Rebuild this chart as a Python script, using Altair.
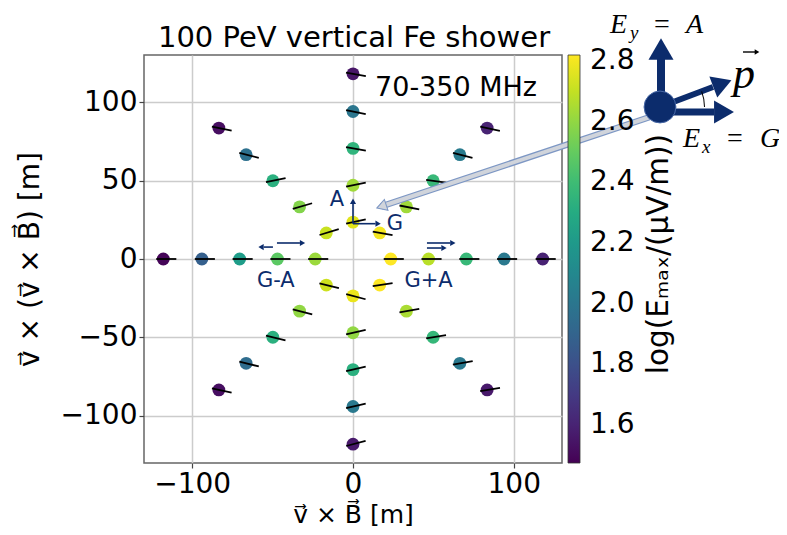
import altair as alt
import pandas as pd

# ---------------- data ----------------
arm_angles = [0, 45, 90, 135, 180, 225, 270, 315]          # direction of each star arm [deg]
radii = [23.5, 47.0, 70.5, 94.0, 118.0]                     # antenna distance along an arm [m]

# log10(E_max / (uV/m)) per arm, inner -> outer
logE_0 = [2.82, 2.68, 2.38, 2.02, 1.60]
logE_45 = [2.80, 2.63, 2.38, 2.03, 1.60]
logE_90 = [2.76, 2.63, 2.35, 2.00, 1.55]
logE_135 = [2.71, 2.57, 2.33, 1.97, 1.52]
logE_180 = [2.62, 2.48, 2.22, 1.88, 1.49]
logE_225 = [2.72, 2.60, 2.33, 1.95, 1.52]
logE_270 = [2.78, 2.60, 2.33, 2.02, 1.56]
logE_315 = [2.82, 2.65, 2.37, 2.02, 1.56]

# polarisation direction per arm [deg from the v x B axis], inner -> outer
pol_0 = [0, 0, 0, 0, 0]
pol_45 = [-10, -11, -8, -14, -12]
pol_90 = [12, 12, -10, -12, -10]
pol_135 = [17, 16, 12, -14, -11]
pol_180 = [0, 0, 0, 0, 0]
pol_225 = [-14, -14, -14, -14, -12]
pol_270 = [-15, 13, 13, 13, 15]
pol_315 = [9, 10, 9, 10, 9]

cbar_ticks = [1.6, 1.8, 2.0, 2.2, 2.4, 2.6, 2.8]
cbar_range = [1.475, 2.82]
x_ticks = [-100, 0, 100]
y_ticks = [-100, -50, 0, 50, 100]
axis_range = [-130, 130]

TITLE = "100 PeV vertical Fe shower"
XT = "v\u20d7 \u00d7 B\u20d7 [m]"
YT = "v\u20d7 \u00d7 (v\u20d7 \u00d7 B\u20d7) [m]"
CBT = "log(E\u2098\u2090\u2093/(\u03bcV/m))"
BAND = "70-350 MHz"

# annotation arrows inside the plot (data coordinates)
ann_x1 = [0, 0, -49.8, -47.3, 46.0, 46.0]
ann_y1 = [22.5, 22.5, 7.6, 10.2, 10.2, 7.0]
ann_x2 = [0, 14.0, -55.5, -33.0, 60.5, 55.0]
ann_y2 = [35.5, 22.5, 7.6, 10.2, 10.2, 7.0]
head_x = [0, 15.6, -57.2, -31.4, 62.1, 56.6]
head_y = [36.8, 22.5, 7.6, 10.2, 10.2, 7.0]
head_a = [0, 90, 270, 90, 90, 90]
lab_text = ["A", "G", "G-A", "G+A"]
lab_x = [-10.0, 26.0, -48.0, 47.0]
lab_y = [37.6, 22.5, -14.0, -14.0]

NAVY = "#0c2c6c"
FONT = "DejaVu Sans"
SERIF = "Liberation Serif"

# ---------------- tables ----------------
rows = []
for a, le, pl in zip(arm_angles,
                     [logE_0, logE_45, logE_90, logE_135, logE_180, logE_225, logE_270, logE_315],
                     [pol_0, pol_45, pol_90, pol_135, pol_180, pol_225, pol_270, pol_315]):
    for r, e, p in zip(radii, le, pl):
        rows.append({"arm": a, "r": r, "logE": e, "pol": p})
df = pd.DataFrame(rows)
ann = pd.DataFrame({"x": ann_x1, "y": ann_y1, "x2": ann_x2, "y2": ann_y2})
heads = pd.DataFrame({"x": head_x, "y": head_y, "a": head_a})
labs = pd.DataFrame({"x": lab_x, "y": lab_y, "t": lab_text})
dummy = pd.DataFrame({"k": [0]})

sx = alt.Scale(domain=axis_range, nice=False, zero=False)
sy = alt.Scale(domain=axis_range, nice=False, zero=False)
axis_common = dict(grid=True, gridColor="#cccccc", gridWidth=1.5, domain=False,
                   tickColor="#444444", tickSize=5, tickWidth=1.2,
                   labelFontSize=28, labelFont=FONT, labelColor="black", labelPadding=2,
                   titleFont=FONT, titleFontWeight="normal", titleColor="black")
xaxis = alt.Axis(values=x_ticks, titlePadding=4, titleFontSize=25, **axis_common)
yaxis = alt.Axis(values=y_ticks, titlePadding=16, titleFontSize=28, **axis_common)


def X(f):
    return alt.X(f, type="quantitative", scale=sx, axis=xaxis, title=XT)


def Y(f):
    return alt.Y(f, type="quantitative", scale=sy, axis=yaxis, title=YT)


base = (alt.Chart(df)
        .transform_calculate(x="datum.r*cos(datum.arm*PI/180)", y="datum.r*sin(datum.arm*PI/180)")
        .transform_calculate(xa="datum.x - 4.4*cos(datum.pol*PI/180)",
                             xb="datum.x + 8.1*cos(datum.pol*PI/180)",
                             ya="datum.y - 4.5*sin(datum.pol*PI/180)",
                             yb="datum.y + 8.3*sin(datum.pol*PI/180)"))

legend = alt.Legend(title=None, orient="right", offset=6, padding=0, direction="vertical",
                    gradientLength=408, gradientThickness=12,
                    gradientStrokeColor="#333333", gradientStrokeWidth=0.8,
                    labelFontSize=28, labelFont=FONT, labelColor="black", labelOffset=10,
                    values=cbar_ticks, format=".1f", labelOverlap=False)

points = base.mark_circle(size=165, opacity=1).encode(
    x=X("x"), y=Y("y"),
    color=alt.Color("logE:Q", scale=alt.Scale(scheme="viridis", domain=cbar_range), legend=legend))

segs = base.mark_rule(color="black", strokeWidth=1.8).encode(
    x=X("xa"), y=Y("ya"), x2=alt.X2("xb", title=XT), y2=alt.Y2("yb", title=YT))

ann_rules = alt.Chart(ann).mark_rule(color=NAVY, strokeWidth=1.6).encode(
    x=X("x"), y=Y("y"), x2=alt.X2("x2", title=XT), y2=alt.Y2("y2", title=YT))
ann_heads = alt.Chart(heads).mark_point(shape="triangle-up", size=38, filled=True, color=NAVY,
                                        opacity=1, strokeWidth=0).encode(
    x=X("x"), y=Y("y"), angle=alt.Angle("a:Q", scale=None))
ann_labs = alt.Chart(labs).mark_text(fontSize=21, font=FONT, color=NAVY,
                                     align="center", baseline="middle").encode(
    x=X("x"), y=Y("y"), text="t:N")
band = alt.Chart(dummy).transform_calculate(x="13.7", y="104").mark_text(
    text=BAND, fontSize=27, font=FONT, color="black", align="left", baseline="alphabetic").encode(
    x=X("x"), y=Y("y"))

# ---------------- pixel annotations (relative to plot origin) ----------------
OX, OY = 144, 55


def pr(x1, y1, x2, y2, color, w):
    return alt.Chart(dummy).mark_rule(color=color, strokeWidth=w, strokeCap="butt").encode(
        x=alt.value(x1 - OX), y=alt.value(y1 - OY), x2=alt.value(x2 - OX), y2=alt.value(y2 - OY))


def ph(x, y, ang, size, color, stroke=None, shape="triangle-up"):
    kw = dict(shape=shape, size=size, angle=ang, filled=True, color=color, opacity=1)
    if stroke:
        kw.update(stroke=stroke, strokeWidth=1)
    else:
        kw.update(strokeWidth=0)
    return alt.Chart(dummy).mark_point(**kw).encode(x=alt.value(x - OX), y=alt.value(y - OY))


def pt(x, y, s, size, font=FONT, style="normal", color="black", align="left",
       baseline="alphabetic", angle=0):
    return alt.Chart(dummy).mark_text(text=s, fontSize=size, font=font, fontStyle=style, color=color,
                                      align=align, baseline=baseline, angle=angle).encode(
        x=alt.value(x - OX), y=alt.value(y - OY))


GREY = "#d0d4db"
GEDGE = "#7d97c4"
layers_px = [
    pt(354, 47, TITLE, 29, align="center"),
    pr(650, 117, 381, 206.5, GEDGE, 6.5),
    pr(650, 117, 381, 206.5, GREY, 4),
    ph(381.5, 206.5, 251.6, 130, GREY, stroke=GEDGE),
    # diagram
    pr(661, 107, 661, 55, NAVY, 8),
    ph(661, 49, 0, 625, NAVY),
    pr(660, 112, 714, 112, NAVY, 7),
    ph(724, 112, 90, 529, NAVY),
    pr(660, 107, 713, 87, NAVY, 6),
    ph(722.4, 83.6, 69.4, 500, NAVY),
    ph(660, 107, 0, 1018, NAVY, stroke="#4a6aa8", shape="circle"),
    alt.Chart(dummy).mark_arc(radius=45, radius2=44, theta=1.211, theta2=1.571, color="black").encode(
        x=alt.value(660 - OX), y=alt.value(107 - OY)),
    pt(610, 33, "E", 28, font=SERIF, style="italic"),
    pt(630, 39, "y", 19, font=SERIF, style="italic"),
    pt(654, 33, "=", 28, font=SERIF),
    pt(686, 33, "A", 28, font=SERIF, style="italic"),
    pt(683, 147, "E", 28, font=SERIF, style="italic"),
    pt(702, 153, "x", 19, font=SERIF, style="italic"),
    pt(727, 147, "=", 28, font=SERIF),
    pt(760, 147, "G", 28, font=SERIF, style="italic"),
    pt(733, 88, "p", 44, font=SERIF, style="italic"),
    # vector arrow above p
    pr(743, 52, 756, 52, "black", 1.4),
    ph(757, 52, 90, 28, "black"),
    pt(659, 254, CBT, 29.5, align="center", baseline="middle", angle=270),
]

chart = alt.layer(points, segs, ann_rules, ann_heads, ann_labs, band, *layers_px).properties(
    width=418, height=408,
    autosize=alt.AutoSizeParams(type="none"),
    padding={"left": 136, "top": 47, "right": 217, "bottom": 64},
).configure_view(stroke="#666666", strokeWidth=1.5)

chart.save("out.html", embed_options={"renderer": "svg", "actions": False})
